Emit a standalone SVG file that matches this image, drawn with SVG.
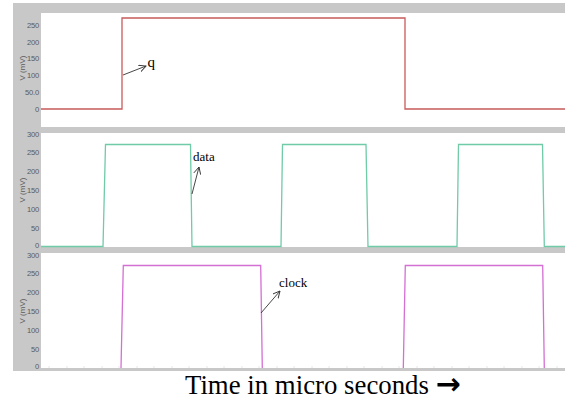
<svg xmlns="http://www.w3.org/2000/svg" width="565" height="402" viewBox="0 0 565 402">
<style>
.frame{fill:#c8c8c8}
.panel{fill:#ffffff}
.lbl{font-family:"Liberation Sans",Arial,sans-serif;font-size:7.6px;fill:#5a5a5a;text-anchor:end;dominant-baseline:central;letter-spacing:-0.2px}
.ax{font-family:"Liberation Sans",Arial,sans-serif;font-size:8px;fill:#5a5a5a;text-anchor:middle}
.q{fill:none;stroke:#c85a5a;stroke-width:1.3}
.d{fill:none;stroke:#6fcba8;stroke-width:1.3}
.c{fill:none;stroke:#d46fd4;stroke-width:1.3}
.ann{font-family:"Liberation Serif","Times New Roman",serif;fill:#000}
.arr{stroke:#333;stroke-width:0.9;fill:none}
.tick{stroke:#e6e6e6;stroke-width:1}
</style>
<defs>
<marker id="ah" viewBox="0 0 8 8" refX="7" refY="4" markerWidth="8" markerHeight="8" markerUnits="userSpaceOnUse" orient="auto">
<path d="M0,0.5 L7,4 L0,7.5" fill="none" stroke="#333" stroke-width="0.9"/>
</marker>
</defs>
<rect width="565" height="402" fill="#ffffff"/>
<rect class="frame" x="13" y="3" width="552" height="368"/>
<g id="panel-q">
<rect class="panel" x="41" y="13" width="524" height="114"/>
<text class="lbl" x="39" y="25">250</text>
<text class="lbl" x="39" y="42">200</text>
<text class="lbl" x="39" y="58">150</text>
<text class="lbl" x="39" y="75">100</text>
<text class="lbl" x="39" y="92">50.0</text>
<text class="lbl" x="39" y="109">0</text>
<text class="ax" transform="translate(22,68) rotate(-90)" dominant-baseline="central">V (mV)</text>
<path class="q" d="M41,109 H122 V18 H405 V109 H565"/>
</g>
<g id="panel-data">
<rect class="panel" x="41" y="133" width="524" height="114"/>
<text class="lbl" x="39" y="134">300</text>
<text class="lbl" x="39" y="152">250</text>
<text class="lbl" x="39" y="171">200</text>
<text class="lbl" x="39" y="190">150</text>
<text class="lbl" x="39" y="209">100</text>
<text class="lbl" x="39" y="228">50</text>
<text class="lbl" x="39" y="245">0</text>
<text class="ax" transform="translate(22,190) rotate(-90)" dominant-baseline="central">V (mV)</text>
<path class="d" d="M41,246.5 H103 L105.5,144.5 H190.5 L192,246.5 H281 L282.5,144.5 H366 L368,246.5 H457 L458.5,144.5 H542.5 L544.3,246.5 H565"/>
</g>
<g id="panel-clock">
<rect class="panel" x="41" y="253" width="524" height="115"/>
<text class="lbl" x="39" y="255.5">300</text>
<text class="lbl" x="39" y="273">250</text>
<text class="lbl" x="39" y="292">200</text>
<text class="lbl" x="39" y="311">150</text>
<text class="lbl" x="39" y="330">100</text>
<text class="lbl" x="39" y="349">50</text>
<text class="lbl" x="39" y="366">0</text>
<text class="ax" transform="translate(22,311) rotate(-90)" dominant-baseline="central">V (mV)</text>
<path class="c" d="M121,368 L123.3,265.5 H260.7 L262.3,368"/>
<path class="c" d="M403.3,368 L405.3,265.5 H542.7 L544.3,368"/>
<g>
<line class="tick" x1="49" y1="366" x2="49" y2="368"/><line class="tick" x1="67" y1="366" x2="67" y2="368"/><line class="tick" x1="84" y1="366" x2="84" y2="368"/><line class="tick" x1="102" y1="366" x2="102" y2="368"/><line class="tick" x1="119" y1="366" x2="119" y2="368"/><line class="tick" x1="137" y1="366" x2="137" y2="368"/><line class="tick" x1="154" y1="366" x2="154" y2="368"/><line class="tick" x1="172" y1="366" x2="172" y2="368"/><line class="tick" x1="189" y1="366" x2="189" y2="368"/><line class="tick" x1="207" y1="366" x2="207" y2="368"/><line class="tick" x1="224" y1="366" x2="224" y2="368"/><line class="tick" x1="242" y1="366" x2="242" y2="368"/><line class="tick" x1="259" y1="366" x2="259" y2="368"/><line class="tick" x1="277" y1="366" x2="277" y2="368"/><line class="tick" x1="294" y1="366" x2="294" y2="368"/><line class="tick" x1="312" y1="366" x2="312" y2="368"/><line class="tick" x1="329" y1="366" x2="329" y2="368"/><line class="tick" x1="347" y1="366" x2="347" y2="368"/><line class="tick" x1="364" y1="366" x2="364" y2="368"/><line class="tick" x1="382" y1="366" x2="382" y2="368"/><line class="tick" x1="399" y1="366" x2="399" y2="368"/><line class="tick" x1="417" y1="366" x2="417" y2="368"/><line class="tick" x1="434" y1="366" x2="434" y2="368"/><line class="tick" x1="452" y1="366" x2="452" y2="368"/><line class="tick" x1="469" y1="366" x2="469" y2="368"/><line class="tick" x1="487" y1="366" x2="487" y2="368"/><line class="tick" x1="504" y1="366" x2="504" y2="368"/><line class="tick" x1="522" y1="366" x2="522" y2="368"/><line class="tick" x1="539" y1="366" x2="539" y2="368"/><line class="tick" x1="557" y1="366" x2="557" y2="368"/>
</g>
</g>
<g id="connectors">
<line class="arr" x1="123" y1="75" x2="146" y2="66" marker-end="url(#ah)"/>
<line class="arr" x1="192" y1="194" x2="199" y2="167" marker-end="url(#ah)"/>
<line class="arr" x1="261" y1="313" x2="280" y2="291" marker-end="url(#ah)"/>
</g>
<g id="label-q"><text class="ann" x="147.5" y="67" font-size="15">q</text></g>
<g id="label-data"><text class="ann" x="193" y="161" font-size="13">data</text></g>
<g id="label-clock"><text class="ann" x="279" y="287" font-size="13">clock</text></g>
<g id="axis-title">
<text class="ann" x="185" y="394" font-size="26.8">Time in micro seconds <tspan font-family="'DejaVu Sans',sans-serif" font-weight="bold" font-size="30">→</tspan></text>
</g>
</svg>
